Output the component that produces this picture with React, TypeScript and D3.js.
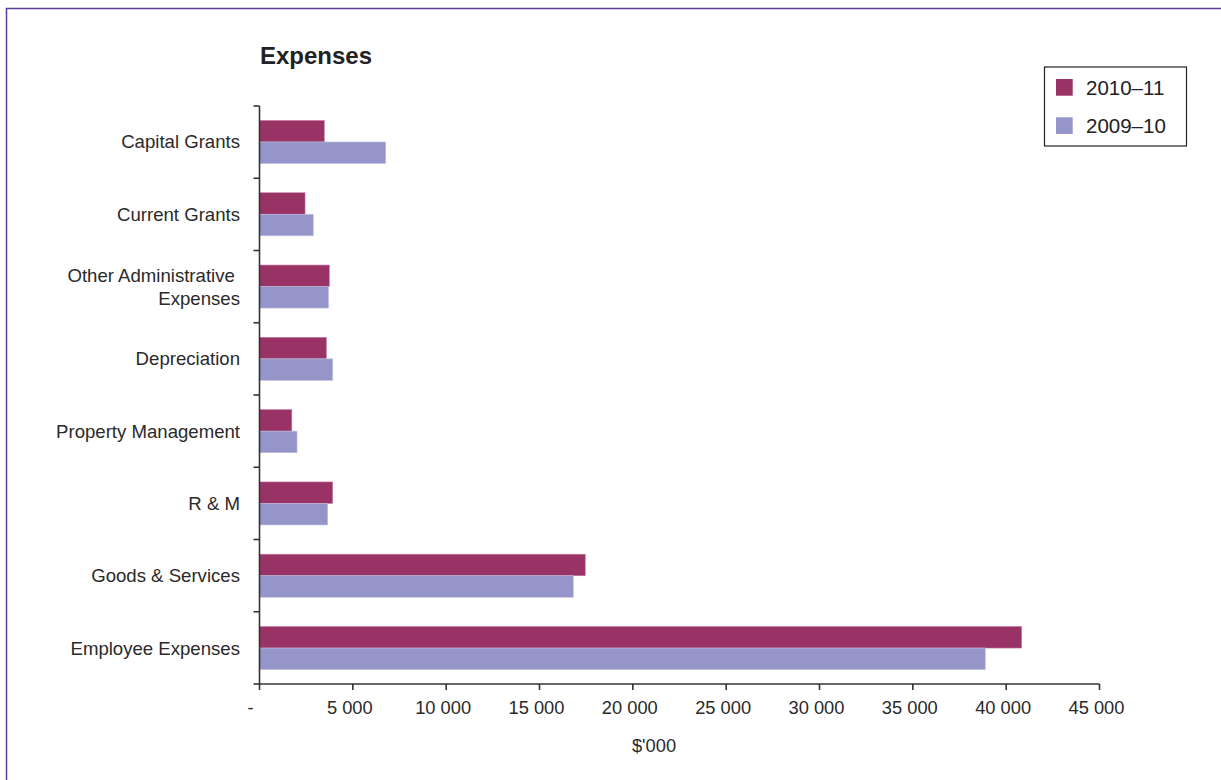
import React from "react";
import * as d3 from "d3";

const categories = [
  "Capital Grants",
  "Current Grants",
  "Other Administrative |Expenses",
  "Depreciation",
  "Property Management",
  "R & M",
  "Goods & Services",
  "Employee Expenses",
];
const series2010_11 = [3470, 2440, 3740, 3580, 1730, 3920, 17450, 40830];
const series2009_10 = [6760, 2880, 3700, 3920, 2010, 3650, 16810, 38880];
const seriesNames = ["2010–11", "2009–10"];
const seriesColors = ["#993366", "#9595c9"];
const xTicks = [0, 5000, 10000, 15000, 20000, 25000, 30000, 35000, 40000, 45000];

const W = 1221;
const H = 780;
const left = 259.5;
const right = 1099.5;
const top = 106;
const bottom = 684;
const FONT = "'Liberation Sans', Arial, sans-serif";

const fmt = (v: number) => (v === 0 ? "-" : d3.format(",")(v).replace(/,/g, " "));

export default function App() {
  const x = d3.scaleLinear().domain([0, 45000]).range([left, right]);
  const y = d3.scaleBand<string>().domain(categories).range([top, bottom]).paddingInner(0.405).paddingOuter(0.2);
  const sub = d3.scaleBand<string>().domain(seriesNames).range([0, y.bandwidth()]);
  const step = (bottom - top) / categories.length;
  const boundaries = d3.range(categories.length + 1).map((i) => top + i * step);
  const seriesVals = [series2010_11, series2009_10];

  return (
    <svg width={W} height={H} style={{ position: "absolute", left: 0, top: 0, background: "#fff" }} fontFamily={FONT}>
      <rect x={6.5} y={8.5} width={1400} height={1000} fill="none" stroke="#5a3d99" strokeWidth={1.5} />
      <text x={260} y={64} fontSize={24} fontWeight="bold" fill="#222">Expenses</text>

      {categories.map((c, i) => (
        <g key={c}>
          {seriesNames.map((s, j) => (
            <rect
              key={s}
              x={x(0)}
              y={(y(c) as number) + (sub(s) as number)}
              width={x(seriesVals[j][i]) - x(0)}
              height={sub.bandwidth()}
              fill={seriesColors[j]}
              stroke={j === 0 ? "#c77aa0" : "#bdbde0"}
              strokeWidth={0.6}
            />
          ))}
        </g>
      ))}

      {/* y axis */}
      <line x1={left} x2={left} y1={top} y2={bottom} stroke="#333" strokeWidth={1.6} />
      {boundaries.map((b, i) => (
        <line key={i} x1={left - 6} x2={left} y1={b} y2={b} stroke="#333" strokeWidth={1.6} />
      ))}
      {categories.map((c) => {
        const lines = c.split("|");
        const cy = (y(c) as number) + y.bandwidth() / 2;
        const lh = 23;
        return (
          <text key={c} x={240} textAnchor="end" fontSize={18.6} fill="#2a2a2a" xmlSpace="preserve" style={{ whiteSpace: "pre" }}>
            {lines.map((l, k) => (
              <tspan key={k} x={240} y={cy + 6.5 + (k - (lines.length - 1) / 2) * lh}>{l}</tspan>
            ))}
          </text>
        );
      })}

      {/* x axis */}
      <line x1={left} x2={right} y1={bottom} y2={bottom} stroke="#333" strokeWidth={1.6} />
      {xTicks.map((t) => (
        <g key={t}>
          <line x1={x(t)} x2={x(t)} y1={bottom} y2={bottom + 6} stroke="#333" strokeWidth={1.6} />
          <text x={t === 0 ? x(t) - 9 : x(t) - 3} y={714} textAnchor="middle" fontSize={18.3} fill="#2a2a2a">
            {fmt(t)}
          </text>
        </g>
      ))}
      <text x={654} y={752} textAnchor="middle" fontSize={18.3} fill="#2a2a2a">$'000</text>

      {/* legend */}
      <rect x={1044.5} y={67} width={142} height={79} fill="#fff" stroke="#222" strokeWidth={1.2} />
      {seriesNames.map((s, j) => (
        <g key={s}>
          <rect x={1056} y={79 + j * 38.3} width={16.7} height={16.7} fill={seriesColors[j]} />
          <text x={1086} y={95 + j * 38.3} fontSize={20.5} fill="#222">{s}</text>
        </g>
      ))}
    </svg>
  );
}
